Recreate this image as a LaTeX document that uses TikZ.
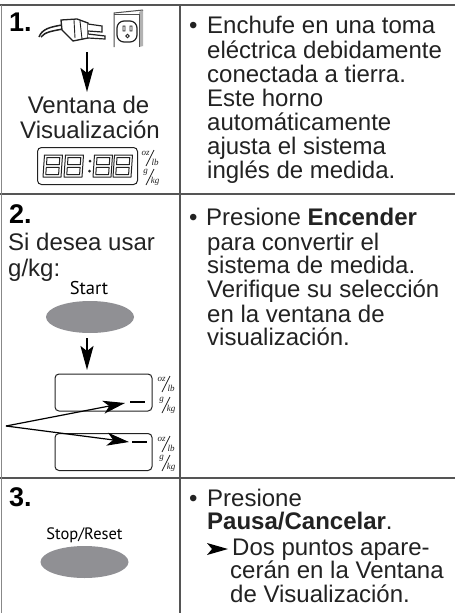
\documentclass[tikz,border=0pt]{standalone}
\usepackage{fontspec}
\setmainfont{Liberation Sans}
\newfontfamily\hum{PT Sans}
\newfontfamily\ser{Liberation Serif}
\usetikzlibrary{arrows.meta,shapes.geometric}
\definecolor{ink}{HTML}{222222}
\definecolor{rule}{HTML}{555555}
\definecolor{btn}{HTML}{909094}
\tikzset{
  x=1pt,y=-1pt,
  body/.style={anchor=base west,inner sep=0pt,text=ink,font=\fontsize{24}{24}\selectfont},
  ctr/.style={anchor=base,inner sep=0pt,text=ink,font=\fontsize{24}{24}\selectfont},
  num/.style={anchor=base west,inner sep=0pt,text=black,font=\fontsize{27}{27}\selectfont\bfseries},
  keylab/.style={anchor=base,inner sep=0pt,text=black,font=\fontsize{18.5}{19}\hum},
  gridline/.style={draw=rule,line width=1.5pt},
  button/.style={ellipse,fill=btn,draw=none,minimum width=88pt,minimum height=32pt,inner sep=0pt},
  panel/.style={draw=ink,line width=1pt,rounded corners=4pt},
  tiny/.style={inner sep=0pt,text=ink,font=\fontsize{9}{9}\ser\itshape},
  bigarrow/.style={draw=black,line width=2pt,-{Stealth[length=24pt,width=13pt,inset=5pt]}},
  callout/.style={draw=black,line width=1.2pt,-{Stealth[length=22pt,width=13pt,inset=6pt]}},
  dashmark/.style={draw=black,line width=2.2pt},
  seg/.style={draw=ink,line width=1pt,line join=round},
}
\newcommand{\unitfrac}[5]{%
  \node[tiny] (#1a) at (#2-4.5,#3-4.5) {#4};
  \node[tiny] (#1b) at (#2+5,#3+4) {#5};
  \draw[ink,line width=.8pt] (#2-4,#3+8) -- (#2+4,#3-8);
}
\newcommand{\digit}[2]{%
  \begin{scope}[shift={(#1,#2)},seg]
    \draw (1.5,0) -- (19.5,0) -- (18,22) -- (0,22) -- cycle;
    \draw (4,2.5) -- (16.8,2.5) -- (16.3,9.7) -- (3.5,9.7) -- cycle;
    \draw (3.3,12.3) -- (16.1,12.3) -- (15.6,19.5) -- (2.8,19.5) -- cycle;
  \end{scope}}
\begin{document}
\begin{tikzpicture}
\useasboundingbox (0,0) rectangle (455,613);
\fill[white] (0,0) rectangle (455,613);
% grid
\coordinate (tl) at (0,5); \coordinate (tr) at (455,5);
\coordinate (r1l) at (0,194); \coordinate (r1r) at (455,194);
\coordinate (r2l) at (0,478); \coordinate (r2r) at (455,478);
\coordinate (vt) at (180,5); \coordinate (vb) at (180,613);
\coordinate (lt) at (1,5); \coordinate (lb) at (1,613);
\draw[gridline] (tl) -- (tr);
\draw[gridline] (r1l) -- (r1r);
\draw[gridline] (r2l) -- (r2r);
\draw[gridline] (vt) -- (vb);
\draw[draw=rule!70,line width=1pt] (lt) -- (lb);
% row 1 left
\node[num] (n1) at (9,31) {1.};
\draw[ink,line width=1.5pt] (39,37) .. controls (42,29) and (50,27) .. (62,25);
\draw[ink,line width=1.5pt] (41,37) .. controls (45,32) and (52,31) .. (63,29);
\draw[ink,line width=1.3pt,fill=white] (61,20) -- (77,19) -- (88,23) -- (88,38) -- (73,41) -- (62,30) -- cycle;
\draw[ink,line width=.9pt] (74,20) -- (75,38) (80,21) -- (82,39);
\draw[ink,line width=1.2pt,fill=white] (88,24) -- (102,26) -- (102,32) -- (88,31);
\draw[ink,line width=1.2pt,fill=white] (88,34) -- (105,36) -- (105,39) -- (88,38);
\fill[black!30] (139,12) -- (143,10) -- (143,46) -- (139,47) -- cycle;
\draw[ink!80,line width=1pt] (114,47) -- (114,13) -- (143,10);
\draw[ink!80,line width=.8pt] (114,14) -- (139,14) -- (139,47);
\draw[ink,line width=1.2pt,fill=white,rounded corners=7pt] (117,21) rectangle (137,42);
\draw[ink,line width=.9pt] (123,26) rectangle (125,31) (130,26) rectangle (132,31) (127.5,36) circle (1.7);
\node[ctr] (v1) at (88.5,113) {Ventana de};
\node[ctr] (v2) at (90,138) {Visualización};
\coordinate (a1s) at (87,52); \coordinate (a1e) at (87,92);
\draw[bigarrow] (a1s) -- (a1e);
\node[panel,minimum width=100pt,minimum height=37pt,inner sep=0pt] (disp) at (87.5,166) {};
\digit{43}{155}\digit{64}{155}\digit{93}{155}\digit{113}{155}
\fill[ink] (90,161) circle (1.5) (89.5,171) circle (1.5);
\unitfrac{ua}{150}{158}{oz}{lb}
\unitfrac{ub}{150}{177}{g}{kg}
% row 1 right
\node[body] (b1) at (189,33) {•};
\node[body] (t11) at (207,33) {Enchufe en una toma};
\node[body] (t12) at (207,58) {eléctrica debidamente};
\node[body] (t13) at (207,82) {conectada a tierra.};
\node[body] (t14) at (207,106) {Este horno};
\node[body] (t15) at (207,130) {automáticamente};
\node[body] (t16) at (207,154) {ajusta el sistema};
\node[body] (t17) at (207,178) {inglés de medida.};
% row 2 left
\node[num] (n2) at (9,223) {2.};
\node[body] (s1) at (8,250) {Si desea usar};
\node[body] (s2) at (8,276) {g/kg:};
\node[keylab] (start) at (89,294) {Start};
\node[button] (bstart) at (90,317) {};
\coordinate (a2s) at (87,338); \coordinate (a2e) at (87,370);
\draw[bigarrow] (a2s) -- (a2e);
\node[panel,minimum width=97pt,minimum height=37pt,inner sep=0pt] (p1) at (103.5,392.5) {};
\node[panel,minimum width=97pt,minimum height=37pt,inner sep=0pt] (p2) at (103.5,452) {};
\coordinate (d1a) at (130,402); \coordinate (d1b) at (145,402);
\coordinate (d2a) at (132,442); \coordinate (d2b) at (147,442);
\draw[dashmark] (d1a) -- (d1b);
\draw[dashmark] (d2a) -- (d2b);
\coordinate (apex) at (6,426);
\coordinate (c1) at (125,403); \coordinate (c2) at (129,442);
\draw[callout] (apex) -- (c1);
\draw[callout] (apex) -- (c2);
\unitfrac{uc}{166}{384}{oz}{lb}
\unitfrac{ud}{166}{405}{g}{kg}
\unitfrac{ue}{166}{444}{oz}{lb}
\unitfrac{uf}{166}{463}{g}{kg}
% row 2 right
\node[body] (b2) at (189,225) {•};
\node[body] (t21) at (206,225) {Presione \textbf{Encender}};
\node[body] (t22) at (207,250) {para convertir el};
\node[body] (t23) at (207,273) {sistema de medida.};
\node[body] (t24) at (207,297) {Verifique su selección};
\node[body] (t25) at (207,322) {en la ventana de};
\node[body] (t26) at (207,345) {visualización.};
% row 3 left
\node[num] (n3) at (9,506) {3.};
\node[keylab,font=\fontsize{16.5}{19}\hum] (stop) at (84.5,539) {Stop/Reset};
\node[button] (bstop) at (84.5,562) {};
% row 3 right
\node[body] (b3) at (189,506) {•};
\node[body] (t31) at (207,506) {Presione};
\node[body] (t32) at (207,529) {\textbf{Pausa/Cancelar}.};
\fill[black] (207,543) -- (228,549) -- (207,555) -- (212,549) -- cycle;
\node[body] (t33) at (232,555) {Dos puntos apare-};
\node[body] (t34) at (230,578) {cerán en la Ventana};
\node[body] (t35) at (230,602) {de Visualización.};
\end{tikzpicture}
\end{document}
